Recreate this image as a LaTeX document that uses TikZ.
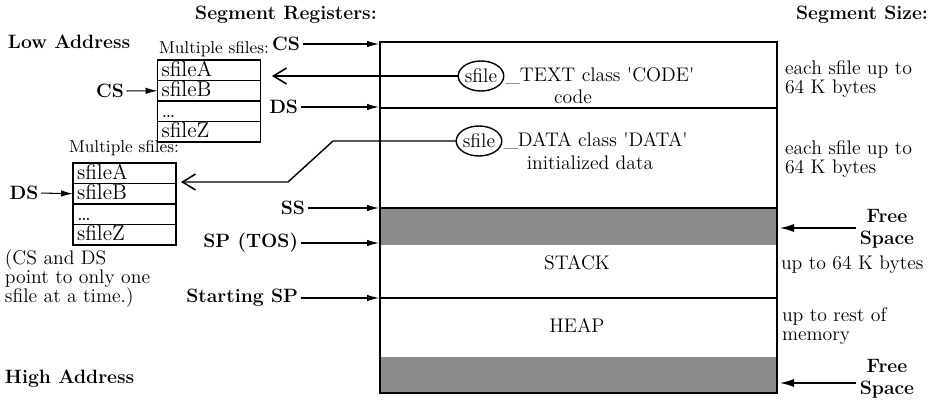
\documentclass[tikz,border=0pt]{standalone}
\usetikzlibrary{shapes.geometric,arrows.meta}
\newcommand{\frowtext}[1]{\makebox[1.9cm][l]{#1}}
\begin{document}
\begin{tikzpicture}[x=0.02cm,y=-0.02cm]
\tikzset{ >={Latex[length=2.4mm,width=1.3mm]}, inner sep=0pt, outer sep=0pt,
  head/.style={font=\fontsize{11}{12.5}\selectfont\bfseries},
  txt/.style={font=\fontsize{11.2}{11}\selectfont},
  small txt/.style={font=\fontsize{9.8}{11}\selectfont},
  frow/.style={minimum width=2.06cm, minimum height=0.41cm,
    text height=0.3cm, text depth=0.05cm, font=\fontsize{12.2}{14}\selectfont},
  frame/.style={line width=0.9pt},
  sf/.style={draw, ellipse, line width=0.8pt, minimum width=0.9cm, minimum height=0.6cm,
    font=\fontsize{11.2}{12}\selectfont},
  reg/.style={->, line width=0.6pt, shorten <=1.5pt},
  back/.style={-{Straight Barb[length=2.6mm,width=3.2mm,line width=0.9pt]}, line width=0.8pt},
  free/.style={{Latex[length=2.8mm,width=1.6mm]}-, line width=0.7pt, shorten >=2pt},
}
\useasboundingbox (0,0) rectangle (930,402);

% memory map
\fill[black!45] (380,208) rectangle (777,245);
\fill[black!45] (380,357) rectangle (777,393);
\draw[line width=1pt] (380,42) rectangle (777,393);
\draw[line width=1pt] (380,108) -- (777,108);
\draw[line width=1pt] (380,208) -- (777,208);
\draw[line width=1pt] (380,298) -- (777,298);

\node [head] (segreg) at (286,15) {Segment Registers:};
\node [head, anchor=east] (segsize) at (928,15) {Segment Size:};
\node [head, anchor=west] (low) at (8,42) {Low Address};
\node [head, anchor=west] (high) at (5,379) {High Address};

% segment registers
\node [head, anchor=east] (cs) at (300,44) {CS};
\node [head, anchor=east] (ds) at (298,107) {DS};
\node [head, anchor=east] (ss) at (305,208) {SS};
\node [head, anchor=east] (sp) at (298,243) {SP (TOS)};
\node [head, anchor=east] (ssp) at (298,298) {Starting SP};
\coordinate (memcs) at (379,44);
\coordinate (memds) at (379,107);
\coordinate (memss) at (379,208);
\coordinate (memsp) at (379,243);
\coordinate (memssp) at (379,298);
\draw [reg] (cs.east) -- (memcs);
\draw [reg] (ds.east) -- (memds);
\draw [reg] (ss.east) -- (memss);
\draw [reg] (sp.east) -- (memsp);
\draw [reg] (ssp.east) -- (memssp);

% segments
\node [sf] (ell1) at (481,76) {sfile};
\node [txt, anchor=west] (codeA) at ([xshift=1pt]ell1.east) {\_TEXT class \textquotesingle CODE\textquotesingle};
\node [txt] (codeB) at (573,97) {code};
\node [sf] (ell2) at (479,141) {sfile};
\node [txt, anchor=west] (dataA) at ([xshift=1pt]ell2.east) {\_DATA class \textquotesingle DATA\textquotesingle};
\node [txt] (dataB) at (590,163) {initialized data};
\node [txt] (stack) at (577,263) {STACK};
\node [txt] (heap) at (577,325) {HEAP};

% sizes
\node [txt, anchor=west, align=left] (sizeA) at (785,79) {each sfile up to\\64 K bytes};
\node [txt, anchor=west, align=left] (sizeB) at (785,159) {each sfile up to\\64 K bytes};
\node [txt, anchor=west] (sizeC) at (781,265) {up to 64 K bytes};
\node [txt, anchor=west, align=left] (sizeD) at (782,326) {up to rest of\\memory};
\node [head, align=center] (freeA) at (887,229) {Free\\Space};
\node [head, align=center] (freeB) at (887,379) {Free\\Space};
\coordinate (freeAtip) at (780,228);
\coordinate (freeBtip) at (780,383);
\draw [free] (freeAtip) -- (freeA.west |- freeAtip);
\draw [free] (freeBtip) -- (freeB.west |- freeBtip);

% code sfiles
\node [small txt] (multA) at (214,49) {Multiple sfiles:};
\node [frow] (ca) at (209,70.25) {\frowtext{sfileA}};
\node [frow] (cb) at (209,90.75) {\frowtext{sfileB}};
\node [frow] (cc) at (209,111.25) {\frowtext{\dots}};
\node [frow] (cz) at (209,131.75) {\frowtext{sfileZ}};
\draw [frame] (ca.north west) rectangle (cz.south east);
\draw [frame] (ca.south west) -- (ca.south east);
\draw [frame] (cb.south west) -- (cb.south east);
\draw [frame] (cc.south west) -- (cc.south east);
\node [head] (csleft) at (110,91) {CS};
\draw [reg] (csleft.east) -- (cb.west);

% data sfiles
\node [small txt] (multB) at (124,148) {Multiple sfiles:};
\node [frow] (da) at (124.5,173.2) {\frowtext{sfileA}};
\node [frow] (db) at (124.5,193.7) {\frowtext{sfileB}};
\node [frow] (dc) at (124.5,214.2) {\frowtext{\dots}};
\node [frow] (dz) at (124.5,234.7) {\frowtext{sfileZ}};
\draw [frame] (da.north west) rectangle (dz.south east);
\draw [frame] (da.south west) -- (da.south east);
\draw [frame] (db.south west) -- (db.south east);
\draw [frame] (dc.south west) -- (dc.south east);
\node [head] (dsleft) at (24,193) {DS};
\draw [reg] (dsleft.east) -- (db.west);

\node [font=\fontsize{11.2}{10.8}\selectfont, anchor=west, align=left] (note) at (5,279)
  {(CS and DS\\point to only one\\sfile at a time.)};

% back arrows
\coordinate (tipA) at (272,76);
\coordinate (bendA) at (333,141);
\coordinate (bendB) at (288,182);
\coordinate (tipB) at (181,182);
\draw [back] (ell1.west) -- (tipA);
\draw [back] (ell2.west) -- (bendA) -- (bendB) -- (tipB);

\end{tikzpicture}
\end{document}
